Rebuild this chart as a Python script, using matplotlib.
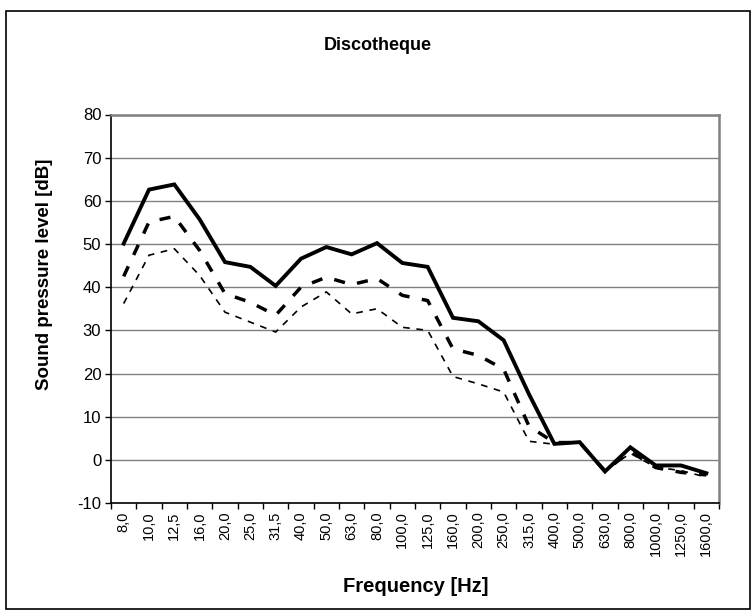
import matplotlib
matplotlib.use("Agg")
import matplotlib.pyplot as plt
from matplotlib.patches import Rectangle

plt.rcParams['font.family'] = ['Liberation Sans', 'DejaVu Sans']

freqs = ["8,0", "10,0", "12,5", "16,0", "20,0", "25,0", "31,5", "40,0", "50,0", "63,0",
         "80,0", "100,0", "125,0", "160,0", "200,0", "250,0", "315,0", "400,0", "500,0",
         "630,0", "800,0", "1000,0", "1250,0", "1600,0"]

level_high = [50.1, 62.6, 63.8, 55.7, 45.8, 44.7, 40.3, 46.6, 49.3, 47.6, 50.2, 45.6,
              44.7, 32.9, 32.1, 27.7, 15.2, 3.7, 4.1, -2.7, 2.9, -1.3, -1.3, -3.1]
level_mid = [42.5, 55.1, 56.4, 48.5, 38.5, 36.5, 33.5, 40.0, 42.3, 40.6, 42.0, 38.1,
             36.9, 25.7, 24.2, 21.0, 7.8, 4.0, 4.0, -2.6, 2.0, -1.8, -2.9, -3.5]
level_low = [36.2, 47.4, 48.9, 42.7, 34.2, 31.9, 29.6, 35.4, 38.9, 33.8, 35.0, 30.7,
             30.0, 19.3, 17.6, 15.7, 4.3, 3.6, 4.0, -2.5, 1.5, -1.7, -2.5, -4.0]

W, H = 753, 614
fig = plt.figure(figsize=(W / 100, H / 100), dpi=100)

# outer chart border
fig.patches.append(Rectangle((6 / W, 1 - 609 / H), (750 - 6) / W, (609 - 11) / H,
                             transform=fig.transFigure, fill=False,
                             edgecolor='black', linewidth=1.2))

ax = fig.add_axes([111 / W, 1 - 503 / H, (719 - 111) / W, (503 - 114.5) / H])

x = list(range(len(freqs)))
ax.plot(x, level_high, color='black', linewidth=2.8, solid_joinstyle='miter')
ax.plot(x, level_mid, color='black', linewidth=2.5, dashes=(3.2, 3.6))
ax.plot(x, level_low, color='black', linewidth=1.2, dashes=(4, 4))

ax.set_xlim(-0.5, len(freqs) - 0.5)
ax.set_ylim(-10, 80)
ax.set_yticks(range(-10, 81, 10))
ax.set_yticklabels([str(v) for v in range(-10, 81, 10)], fontsize=12)
ax.set_xticks([i + 0.5 for i in range(-1, len(freqs))])
ax.set_xticklabels([])
ax.set_xticks(x, minor=True)
ax.set_xticklabels(freqs, minor=True, rotation=90, fontsize=10.5)
ax.tick_params(axis='x', which='minor', length=0, pad=6)
ax.tick_params(axis='x', which='major', length=4, width=1, direction='out')
ax.tick_params(axis='y', length=4, width=1, direction='out', pad=3)

ax.grid(axis='y', color='#808080', linewidth=1)
ax.set_axisbelow(True)
for side in ['top', 'right']:
    ax.spines[side].set_color('#808080')
    ax.spines[side].set_linewidth(1.8)
for side in ['left', 'bottom']:
    ax.spines[side].set_color('black')
    ax.spines[side].set_linewidth(1.2)

fig.text(378 / W, 1 - 46 / H, "Discotheque", ha='center', va='center',
         fontsize=13, fontweight='bold')
fig.text(416 / W, 1 - 586 / H, "Frequency [Hz]", ha='center', va='center',
         fontsize=14.5, fontweight='bold')
fig.text(45 / W, 1 - 274 / H, "Sound pressure level [dB]", ha='center', va='center',
         rotation=90, fontsize=13.5, fontweight='bold')

fig.savefig("out.png", dpi=100)
